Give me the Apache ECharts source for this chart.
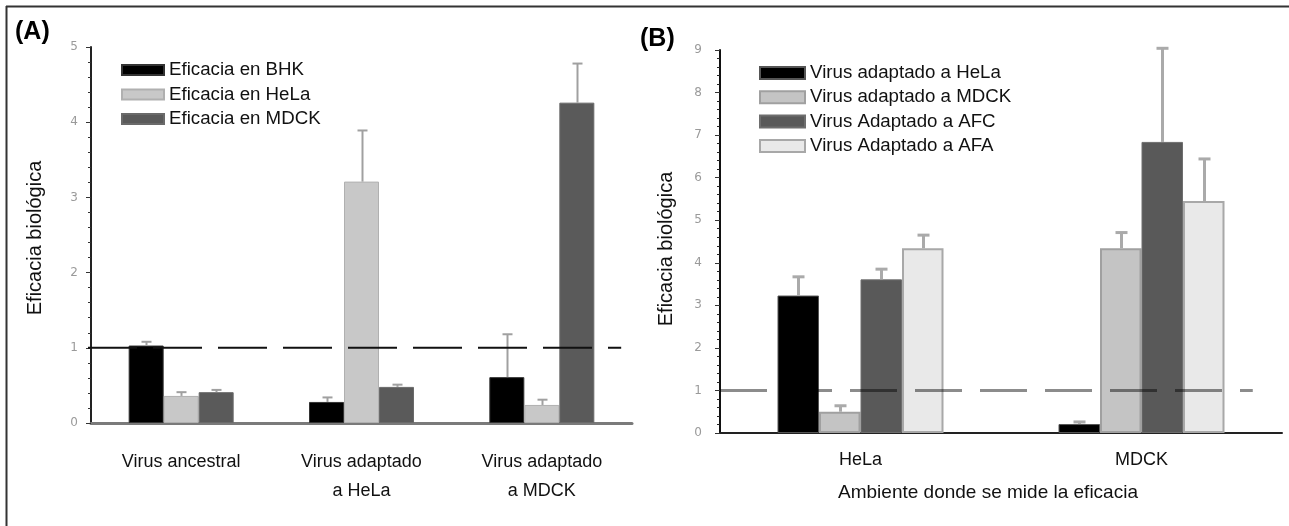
<!DOCTYPE html>
<html><head><meta charset="utf-8">
<script src="https://cdn.jsdelivr.net/npm/echarts@6/dist/echarts.min.js"></script>
<style>html,body{margin:0;padding:0;background:#fff}#c{width:1289px;height:526px}</style>
</head><body><div id="c"></div>
<script>
// ---------- Panel A data ----------
const catsA = ['Virus ancestral', 'Virus adaptado\na HeLa', 'Virus adaptado\na MDCK'];
const namesA = ['Eficacia en BHK', 'Eficacia en HeLa', 'Eficacia en MDCK'];
const bhkA = [1.03, 0.28, 0.61];
const helaA = [0.36, 3.21, 0.24];
const mdckA = [0.41, 0.48, 4.26];
const bhkA_up = [1.08, 0.34, 1.18];
const helaA_up = [0.41, 3.89, 0.31];
const mdckA_up = [0.44, 0.51, 4.78];
const ticksA = [0, 1, 2, 3, 4, 5];

// ---------- Panel B data ----------
const catsB = ['HeLa', 'MDCK'];
const namesB = ['Virus adaptado a HeLa', 'Virus adaptado a MDCK', 'Virus Adaptado a AFC', 'Virus Adaptado a AFA'];
const adHelaB = [3.23, 0.21];
const adMdckB = [0.50, 4.34];
const afcB = [3.61, 6.84];
const afaB = [4.34, 5.45];
const adHelaB_up = [3.67, 0.26];
const adMdckB_up = [0.64, 4.71];
const afcB_up = [3.85, 9.04];
const afaB_up = [4.65, 6.44];
const ticksB = [0, 1, 2, 3, 4, 5, 6, 7, 8, 9];

const refValue = 1;

const FONT = "'Liberation Sans', Arial, sans-serif";

function errSeries(name, xi, yi, vals, ups, idx, n, bw, color, lw, cap) {
  return {
    type: 'custom', name: name + ' err', xAxisIndex: xi, yAxisIndex: yi, z: 4, silent: true,
    data: vals.map((v, i) => [i, v, ups[i]]),
    renderItem: function (params, api) {
      const p0 = api.coord([api.value(0), api.value(1)]);
      const p1 = api.coord([api.value(0), api.value(2)]);
      const cx = Math.round(p0[0] + (idx - (n - 1) / 2) * bw) + 0.5;
      return { type: 'group', children: [
        { type: 'line', shape: { x1: cx, y1: p0[1], x2: cx, y2: p1[1] }, style: { stroke: color, lineWidth: lw } },
        { type: 'line', shape: { x1: cx - cap / 2, y1: p1[1], x2: cx + cap / 2, y2: p1[1] }, style: { stroke: color, lineWidth: lw } }
      ]};
    }
  };
}

function refSeries(xi, yi, startOff, endFrac, color, lw, dash) {
  return {
    type: 'custom', xAxisIndex: xi, yAxisIndex: yi, z: 6, silent: true,
    data: [[0, refValue]],
    renderItem: function (params, api) {
      const cs = params.coordSys;
      const y = api.coord([0, api.value(1)])[1];
      return { type: 'line', shape: { x1: cs.x + startOff, y1: y, x2: cs.x + cs.width * endFrac, y2: y },
        style: { stroke: color, lineWidth: lw, lineDash: dash } };
    }
  };
}

function bar(name, xi, yi, data, color, border, bw, bwid) {
  return { type: 'bar', name: name, xAxisIndex: xi, yAxisIndex: yi, data: data, barWidth: bw, barGap: '0%',
    itemStyle: { color: color, borderColor: border, borderWidth: bwid }, z: 2 };
}

const chart = echarts.init(document.getElementById('c'), null, { renderer: 'canvas' });
const option = {
  backgroundColor: '#ffffff',
  animation: false,
  textStyle: { fontFamily: FONT },
  grid: [
    { left: 91, top: 47, width: 541, height: 376 },
    { left: 720, top: 50, width: 562, height: 383 }
  ],
  legend: [
    { data: namesA, orient: 'vertical', left: 121, top: 60, padding: 0, itemWidth: 42, itemHeight: 10, itemGap: 4.5,
      icon: 'rect', textStyle: { fontSize: 18.7, color: '#111', lineHeight: 20, fontFamily: FONT } },
    { data: namesB, orient: 'vertical', left: 759, top: 63, padding: 0, itemWidth: 45, itemHeight: 12, itemGap: 4.3,
      icon: 'rect', textStyle: { fontSize: 18.7, color: '#111', lineHeight: 20, fontFamily: FONT } }
  ],
  xAxis: [
    { type: 'category', gridIndex: 0, data: catsA,
      axisLine: { lineStyle: { color: '#7a7a7a', width: 3 } },
      axisTick: { alignWithLabel: true, length: 5, lineStyle: { color: '#888' } },
      axisLabel: { fontSize: 18, color: '#111', margin: 25, lineHeight: 29, fontFamily: FONT } },
    { type: 'category', gridIndex: 1, data: catsB,
      axisLine: { lineStyle: { color: '#222', width: 2 } },
      axisTick: { alignWithLabel: true, length: 6, lineStyle: { color: '#444' } },
      axisLabel: { fontSize: 18, color: '#111', margin: 18, fontFamily: FONT },
      name: 'Ambiente donde se mide la eficacia', nameLocation: 'middle', nameGap: 50,
      nameTextStyle: { fontSize: 19, color: '#111', padding: [0, 26, 0, 0], fontFamily: FONT } }
  ],
  yAxis: [
    { type: 'value', gridIndex: 0, min: ticksA[0], max: ticksA[ticksA.length - 1], interval: 1,
      splitLine: { show: false },
      axisLine: { show: true, lineStyle: { color: '#222', width: 2 } },
      axisTick: { show: true, length: 5, lineStyle: { color: '#333' } },
      minorTick: { show: true, splitNumber: 5, length: 3, lineStyle: { color: '#333' } },
      axisLabel: { fontSize: 12, color: '#9a9a9a', margin: 13, fontFamily: "'DejaVu Sans', sans-serif" },
      name: 'Eficacia biológica', nameLocation: 'middle', nameGap: 46,
      nameTextStyle: { fontSize: 20, color: '#111', padding: [0, 6, 0, 0], fontFamily: FONT } },
    { type: 'value', gridIndex: 1, min: ticksB[0], max: ticksB[ticksB.length - 1], interval: 1,
      splitLine: { show: false },
      axisLine: { show: true, lineStyle: { color: '#111', width: 2 } },
      axisTick: { show: true, length: 5, lineStyle: { color: '#333' } },
      minorTick: { show: true, splitNumber: 5, length: 3, lineStyle: { color: '#222' } },
      axisLabel: { fontSize: 12, color: '#9a9a9a', margin: 18, fontFamily: "'DejaVu Sans', sans-serif" },
      name: 'Eficacia biológica', nameLocation: 'middle', nameGap: 44,
      nameTextStyle: { fontSize: 20, color: '#111', padding: [0, 15, 0, 0], fontFamily: FONT } }
  ],
  series: [
    bar(namesA[0], 0, 0, bhkA, '#000000', '#333333', 35, 1),
    bar(namesA[1], 0, 0, helaA, '#c8c8c8', '#b0b0b0', 35, 1),
    bar(namesA[2], 0, 0, mdckA, '#5a5a5a', '#6a6a6a', 35, 1),
    errSeries(namesA[0], 0, 0, bhkA, bhkA_up, 0, 3, 35, '#a0a0a0', 2, 10),
    errSeries(namesA[1], 0, 0, helaA, helaA_up, 1, 3, 35, '#a0a0a0', 2, 10),
    errSeries(namesA[2], 0, 0, mdckA, mdckA_up, 2, 3, 35, '#a0a0a0', 2, 10),
    refSeries(0, 0, -3, 0.98, '#111', 2, [49, 16]),

    bar(namesB[0], 1, 1, adHelaB, '#000000', '#555555', 41.5, 1),
    bar(namesB[1], 1, 1, adMdckB, '#c4c4c4', '#a0a0a0', 41.5, 2),
    bar(namesB[2], 1, 1, afcB, '#595959', '#6e6e6e', 41.5, 1),
    bar(namesB[3], 1, 1, afaB, '#e9e9e9', '#a8a8a8', 41.5, 2),
    errSeries(namesB[0], 1, 1, adHelaB, adHelaB_up, 0, 4, 41.5, '#aaaaaa', 3, 12),
    errSeries(namesB[1], 1, 1, adMdckB, adMdckB_up, 1, 4, 41.5, '#aaaaaa', 3, 12),
    errSeries(namesB[2], 1, 1, afcB, afcB_up, 2, 4, 41.5, '#aaaaaa', 3, 12),
    errSeries(namesB[3], 1, 1, afaB, afaB_up, 3, 4, 41.5, '#aaaaaa', 3, 12),
    refSeries(1, 1, 0, 0.948, 'rgba(0,0,0,0.45)', 3, [47, 18])
  ],
  graphic: [
    { type: 'line', shape: { x1: 6.5, y1: 6, x2: 6.5, y2: 526 }, style: { stroke: '#333', lineWidth: 2 } },
    { type: 'line', shape: { x1: 6, y1: 6.5, x2: 1289, y2: 6.5 }, style: { stroke: '#333', lineWidth: 2 } },
    { type: 'text', left: 15, top: 20, style: { text: '(A)', font: "bold 25px 'Liberation Sans', Arial, sans-serif", fill: '#000' } },
    { type: 'text', left: 640, top: 27, style: { text: '(B)', font: "bold 25px 'Liberation Sans', Arial, sans-serif", fill: '#000' } }
  ]
};
chart.setOption(option);
</script>
</body></html>
